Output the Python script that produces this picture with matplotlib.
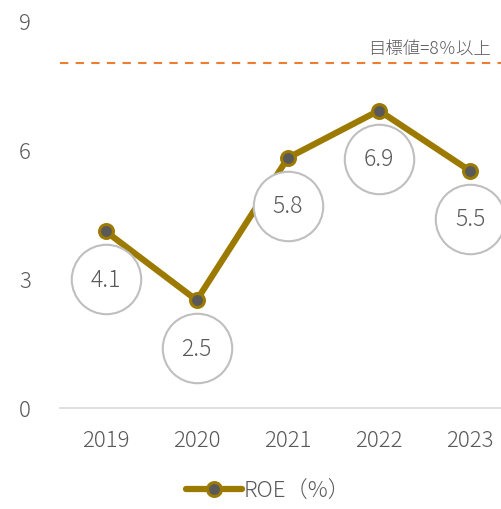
import matplotlib.pyplot as plt
from matplotlib.transforms import offset_copy

plt.rcParams["font.family"] = ["Noto Sans CJK JP", "DejaVu Sans"]

years = ["2019", "2020", "2021", "2022", "2023"]
roe = [4.1, 2.5, 5.8, 6.9, 5.5]
target = 8
y_ticks = [0, 3, 6, 9]

GOLD = "#9C7A00"
TEXT = "#595959"

fig = plt.figure(figsize=(5.02, 5.10), dpi=100)
ax = fig.add_axes([60 / 502, 101 / 510, 442 / 502, 388 / 510])
x = list(range(len(years)))

ax.axhline(target, color="#ED7D31", lw=1.5, ls=(0, (4, 3.5)), zorder=1)
ax.text(0.975, target + 0.12, "目標値=8％以上", transform=ax.get_yaxis_transform(),
        ha="right", va="bottom", fontsize=12.5, color=TEXT, fontweight="light")

ax.plot(x, roe, color=GOLD, lw=4.5, marker="o", ms=10, mfc="#595959", mec=GOLD,
        mew=2.2, solid_capstyle="round", zorder=3, label="ROE（%）")

circ = offset_copy(ax.transData, fig=fig, y=-48, units="dots")
ax.scatter(x, roe, s=2500, facecolor="white", edgecolor="#BFBFBF", lw=1.5,
           transform=circ, zorder=4, clip_on=False)
for xi, v in zip(x, roe):
    ax.text(xi, v, f"{v:.1f}", transform=circ, ha="center", va="center",
            fontsize=16.5, color=TEXT, fontweight="light", zorder=5)

ax.set_xlim(-0.5, 4.35)
ax.set_ylim(0, 9)
ax.set_xticks(x, years)
ax.set_yticks(y_ticks)
for s in ["top", "right", "left"]:
    ax.spines[s].set_visible(False)
ax.spines["bottom"].set_color("#D9D9D9")
ax.spines["bottom"].set_linewidth(1.2)
ax.tick_params(axis="x", length=0, pad=15, labelsize=16, labelcolor=TEXT)
ax.tick_params(axis="y", length=0, pad=21, labelsize=16, labelcolor=TEXT)
for lbl in ax.get_xticklabels() + ax.get_yticklabels():
    lbl.set_fontweight("light")

fig.legend(loc="lower center", bbox_to_anchor=(0.535, -0.025), frameon=False,
           labelcolor=TEXT, handlelength=2.5, handletextpad=0.1,
           prop={"weight": "light", "size": 16})

fig.savefig("out.png", dpi=100)
